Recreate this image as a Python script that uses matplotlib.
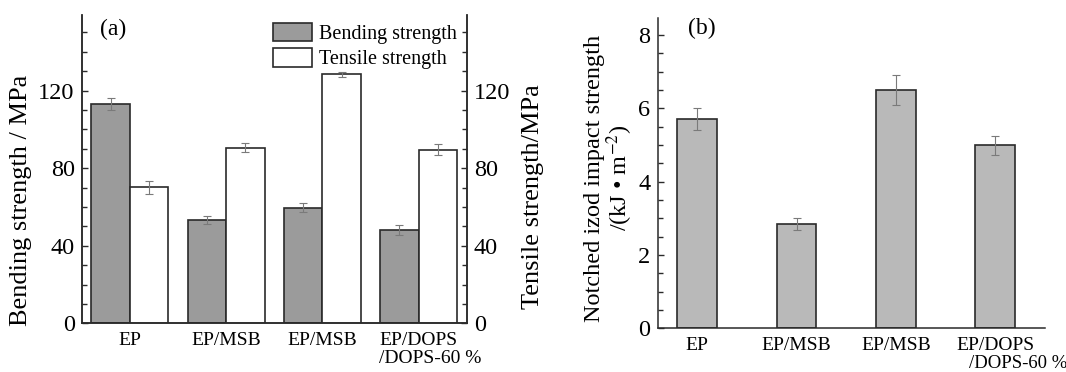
import numpy as np
import matplotlib
matplotlib.use("Agg")
import matplotlib.pyplot as plt
from matplotlib.ticker import MultipleLocator
from matplotlib.transforms import blended_transform_factory

plt.rcParams["font.family"] = ["Liberation Serif", "DejaVu Serif"]
plt.rcParams["mathtext.fontset"] = "stix"

# ── data ──────────────────────────────────────────────────────────────────────
samples      = ["EP", "EP/MSB", "EP/MSB", "EP/DOPS"]
extra_line   = "/DOPS-60 %"
bending      = [113.0, 53.4, 59.7, 48.2]
bending_err  = [3.0, 2.0, 2.2, 2.7]
tensile      = [70.2, 90.6, 128.4, 89.6]
tensile_err  = [3.4, 2.5, 1.4, 2.6]
impact       = [5.71, 2.84, 6.50, 4.99]
impact_err   = [0.30, 0.16, 0.40, 0.25]

x = np.arange(len(samples))
W = 0.4
EDGE = "#2a2a2a"
ERR = dict(ecolor="#7a7a7a", elinewidth=0.8, capsize=3, capthick=0.8)

fig = plt.figure(figsize=(10.66, 3.72), dpi=100)

def style_y(ax, major, minor):
    ax.yaxis.set_major_locator(MultipleLocator(major))
    ax.yaxis.set_minor_locator(MultipleLocator(minor))
    ax.tick_params(axis="y", which="both", direction="in", labelsize=17.5,
                   width=1.0, color=EDGE, pad=5)
    ax.tick_params(axis="y", which="major", length=4.5)
    ax.tick_params(axis="y", which="minor", length=3.5)
    ax.tick_params(axis="x", length=0, labelsize=14, pad=6)

# ── (a) bending / tensile ─────────────────────────────────────────────────────
ax1 = fig.add_axes([0.0766, 0.1309, 0.3612, 0.829])
ax2 = ax1.twinx()
b1 = ax1.bar(x - W / 2, bending, W, yerr=bending_err, color="#9b9b9b",
             edgecolor=EDGE, linewidth=1.2, error_kw=ERR)
b2 = ax2.bar(x + W / 2, tensile, W, yerr=tensile_err, color="white",
             edgecolor=EDGE, linewidth=1.2, error_kw=ERR)
for ax in (ax1, ax2):
    ax.set_xlim(-0.5, 3.5)
    ax.set_ylim(0, 159)
    style_y(ax, 40, 10)
    ax.spines["top"].set_visible(False)
    for s in ("left", "right", "bottom"):
        ax.spines[s].set_linewidth(1.1)
        ax.spines[s].set_color(EDGE)
ax1.set_xticks(x)
ax1.set_xticklabels(samples)
ax1.set_ylabel("Bending strength / MPa", fontsize=19)
ax1.yaxis.set_label_coords(-0.13, 0.40)
ax2.set_ylabel("Tensile strength/MPa", fontsize=19)
ax2.yaxis.set_label_coords(1.143, 0.41)
ax1.text(0.048, 0.953, "(a)", transform=ax1.transAxes, fontsize=17,
         ha="left", va="center")
tr = blended_transform_factory(ax1.transData, ax1.transAxes)
ax1.text(2.59, -0.085, extra_line, transform=tr, fontsize=14,
         ha="left", va="top")
ax2.legend([b1, b2], ["Bending strength", "Tensile strength"],
           loc="upper left", bbox_to_anchor=(0.497, 0.975), frameon=False,
           fontsize=14.5, handlelength=1.95, handleheight=1.05,
           labelspacing=0.2, handletextpad=0.35, borderpad=0, borderaxespad=0)

# ── (b) impact strength ───────────────────────────────────────────────────────
ax3 = fig.add_axes([0.6168, 0.1175, 0.3634, 0.8333])
ax3.bar(x, impact, W, yerr=impact_err, color="#b9b9b9", edgecolor=EDGE,
        linewidth=1.2, error_kw=ERR)
ax3.set_xlim(-0.4, 3.5)
ax3.set_ylim(0, 8.46)
style_y(ax3, 2, 0.5)
for s in ("top", "right"):
    ax3.spines[s].set_visible(False)
for s in ("left", "bottom"):
    ax3.spines[s].set_linewidth(1.1)
    ax3.spines[s].set_color(EDGE)
ax3.set_xticks(x)
ax3.set_xticklabels(samples)
ax3.set_ylabel("Notched izod impact strength\n/(kJ • m$^{-2}$)", fontsize=17.5,
               linespacing=1.0)
ax3.yaxis.set_label_coords(-0.058, 0.485)
ax3.text(0.078, 0.966, "(b)", transform=ax3.transAxes, fontsize=17,
         ha="left", va="center")
tr3 = blended_transform_factory(ax3.transData, ax3.transAxes)
ax3.text(2.74, -0.085, extra_line, transform=tr3, fontsize=13.5,
         ha="left", va="top")

fig.savefig("out.png", dpi=100)
